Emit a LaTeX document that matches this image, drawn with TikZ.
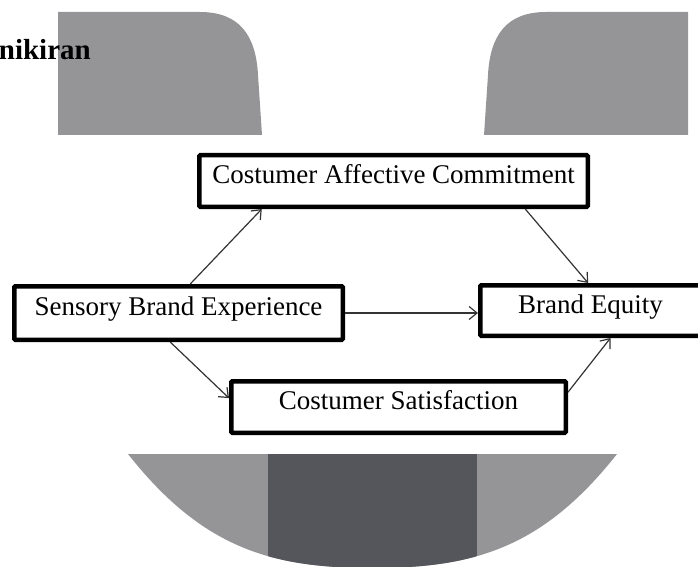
\documentclass[tikz,border=0pt]{standalone}
\usepackage{fontspec}
\setmainfont{Liberation Serif}
\usetikzlibrary{arrows.meta}
\definecolor{shadegray}{HTML}{959597}
\definecolor{darkgray}{HTML}{55565B}
\begin{document}
\begin{tikzpicture}[x=1pt,y=1pt,
    varbox/.style={draw,line width=4.5pt,rounded corners=1pt,inner sep=0pt,
      font=\fontsize{27}{32}\selectfont,text height=0.7em,text depth=0.2em},
    link/.style={->,line width=1.2pt,draw=black!80},
    >={Straight Barb[length=8pt,width=13pt]}]
    \useasboundingbox (0,0) rectangle (698,566);

    % page decoration
    \fill[shadegray] (58,431) -- (58,554) -- (200,554) .. controls (240,554) and (256,530) .. (258,491) -- (262,431) -- cycle;
    \fill[shadegray] (484,431) -- (488,491) .. controls (490,530) and (506,554) .. (546,554) -- (688,554) -- (688,431) -- cycle;
    \fill[shadegray] (128,112) .. controls (203,17) and (272.5,-2) .. (372.5,-2)
        .. controls (472.5,-2) and (542,17) .. (617,112) -- cycle;
    \begin{scope}
        \clip (128,112) .. controls (203,17) and (272.5,-2) .. (372.5,-2)
            .. controls (472.5,-2) and (542,17) .. (617,112) -- cycle;
        \fill[darkgray] (268,-5) rectangle (477,112);
    \end{scope}

    \node[anchor=base east,inner sep=0pt,font=\fontsize{29}{34}\selectfont\bfseries] (head) at (91,506) {nikiran};

    \node[varbox,minimum width=388.5pt,minimum height=51.5pt] (cac) at (393.5,385) {Costumer Affective Commitment};
    \node[varbox,minimum width=328.5pt,minimum height=53.5pt] (sbe) at (178.5,253) {Sensory Brand Experience};
    \node[varbox,minimum width=220.5pt,minimum height=50.5pt] (be) at (590.5,255.5) {Brand Equity};
    \node[varbox,minimum width=334.5pt,minimum height=51.5pt] (cs) at (398.5,159) {Costumer Satisfaction};

    \draw[link] (sbe.68) to (cac.192);
    \draw[link] (cac.-12) to (be.95);
    \draw[link] (sbe.east) to (sbe.east -| be.west);
    \draw[link] (sbe.254) to (cs.177);
    \draw[link] (cs.5) to (be.-54);
\end{tikzpicture}
\end{document}
